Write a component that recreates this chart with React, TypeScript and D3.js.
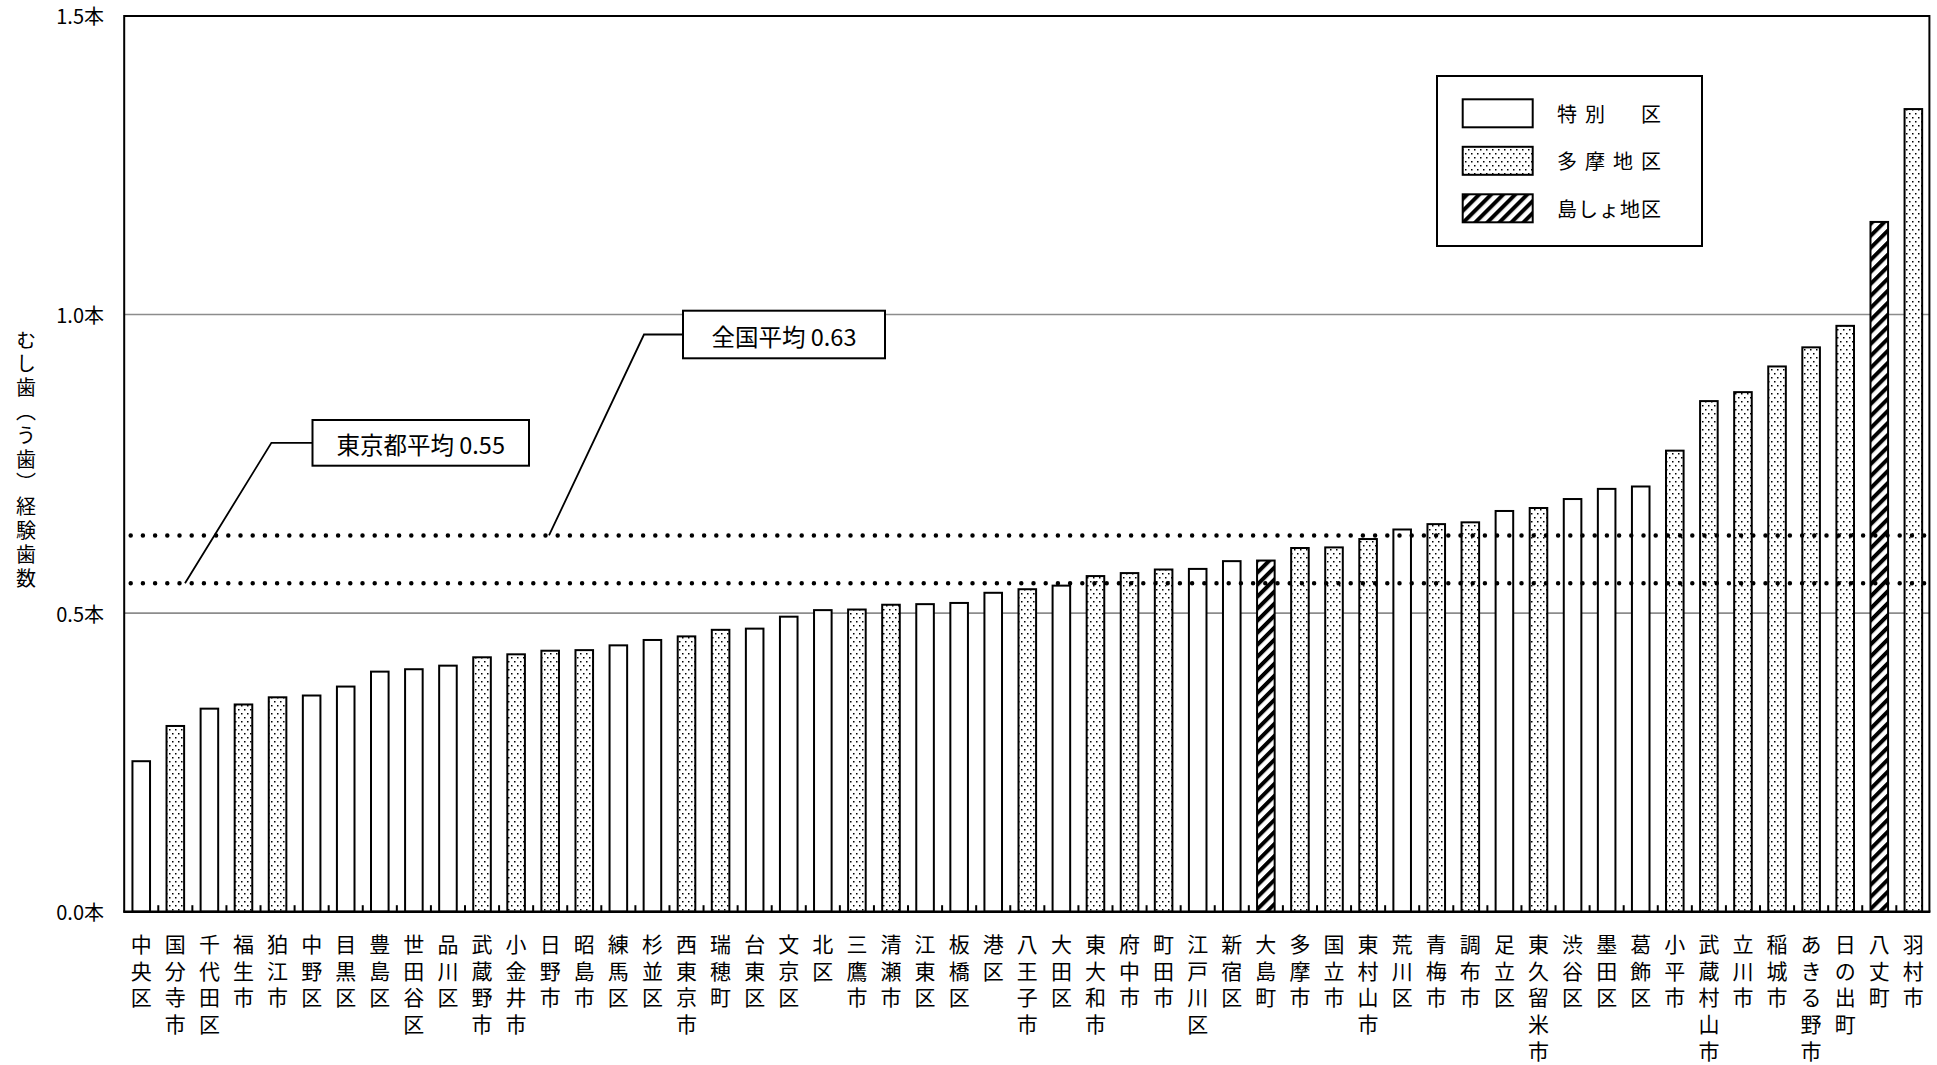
import React from "react";
import * as d3 from "d3";

const categories = [
  "中央区", "国分寺市", "千代田区", "福生市", "狛江市", "中野区", "目黒区", "豊島区", "世田谷区", "品川区",
  "武蔵野市", "小金井市", "日野市", "昭島市", "練馬区", "杉並区", "西東京市", "瑞穂町", "台東区", "文京区",
  "北区", "三鷹市", "清瀬市", "江東区", "板橋区", "港区", "八王子市", "大田区", "東大和市", "府中市",
  "町田市", "江戸川区", "新宿区", "大島町", "多摩市", "国立市", "東村山市", "荒川区", "青梅市", "調布市",
  "足立区", "東久留米市", "渋谷区", "墨田区", "葛飾区", "小平市", "武蔵村山市", "立川市", "稲城市", "あきる野市",
  "日の出町", "八丈町", "羽村市",
];

const values = [
  0.252, 0.311, 0.34, 0.347, 0.359, 0.362, 0.377, 0.402, 0.406, 0.412,
  0.426, 0.431, 0.437, 0.438, 0.446, 0.455, 0.461, 0.472, 0.474, 0.494,
  0.505, 0.506, 0.514, 0.515, 0.517, 0.534, 0.54, 0.546, 0.562, 0.567,
  0.573, 0.574, 0.587, 0.588, 0.609, 0.61, 0.624, 0.64, 0.649, 0.652,
  0.671, 0.676, 0.691, 0.708, 0.712, 0.772, 0.855, 0.87, 0.913, 0.945,
  0.981, 1.155, 1.344,
];

// w = 特別区, t = 多摩地区, i = 島しょ地区
const regions = [
  "w", "t", "w", "t", "t", "w", "w", "w", "w", "w",
  "t", "t", "t", "t", "w", "w", "t", "t", "w", "w",
  "w", "t", "t", "w", "w", "w", "t", "w", "t", "t",
  "t", "w", "w", "i", "t", "t", "t", "w", "t", "t",
  "w", "t", "w", "w", "w", "t", "t", "t", "t", "t",
  "t", "i", "t",
];

const legendKeys = ["w", "t", "i"];
const legendLabels = ["特別　区", "多摩地区", "島しょ地区"];

const yTicks = [0, 0.5, 1.0, 1.5];
const yTickLabels = ["0.0本", "0.5本", "1.0本", "1.5本"];
const gridValues = [0.5, 1.0];

const refLabels = ["東京都平均 0.55", "全国平均 0.63"];
const refValues = [0.55, 0.63];

const yTitle = "むし歯（う歯）経験歯数";

const FONT = "'Noto Sans CJK JP', 'Noto Sans', sans-serif";

const fillFor = (r: string) =>
  r === "w" ? "#ffffff" : r === "t" ? "url(#dots)" : "url(#hatch)";

export default function App() {
  const W = 1937;
  const H = 1065;
  const left = 124.2;
  const right = 1930.4;
  const top = 15.9;
  const bottom = 911.7;

  const x = d3.scaleBand<string>().domain(categories).range([left, right]).padding(0);
  const step = x.step();
  const barW = step * 0.516;
  const y = d3.scaleLinear().domain([0, 1.5]).range([bottom, top]);

  // annotation layout (boxes + leaders)
  const annos = [
    { box: [312.5, 420, 216.5, 45.7], elbowX: 271.4, endX: 185 },
    { box: [683, 310.7, 202, 47.6], elbowX: 644, endX: 549 },
  ];

  return (
    <svg
      width={W}
      height={H}
      style={{ position: "absolute", left: 0, top: 0, background: "#fff" }}
      fontFamily={FONT}
    >
      <defs>
        <pattern id="dots" width="6" height="8" patternUnits="userSpaceOnUse">
          <rect width="6" height="8" fill="#fff" />
          <rect x="1" y="1" width="1.5" height="1.5" fill="#000" />
          <rect x="4" y="5" width="1.5" height="1.5" fill="#000" />
        </pattern>
        <pattern
          id="hatch"
          width="8.5"
          height="8.5"
          patternUnits="userSpaceOnUse"
          patternTransform="rotate(45)"
        >
          <rect width="8.5" height="8.5" fill="#fff" />
          <rect x="0" y="0" width="4" height="8.5" fill="#000" />
        </pattern>
      </defs>

      <rect x={0} y={0} width={W} height={H} fill="#fff" />

      {/* gridlines */}
      {gridValues.map((v) => (
        <line key={v} x1={left} x2={right - 1} y1={y(v)} y2={y(v)} stroke="#8c8c8c" strokeWidth={1.6} />
      ))}

      {/* bars */}
      {categories.map((c, i) => {
        const cx = (x(c) as number) + step / 2;
        return (
          <rect
            key={c}
            x={cx - barW / 2}
            y={y(values[i])}
            width={barW}
            height={bottom - y(values[i])}
            fill={fillFor(regions[i])}
            stroke="#000"
            strokeWidth={2}
          />
        );
      })}

      {/* x ticks (inward) */}
      {categories.slice(1).map((c) => (
        <line key={"t" + c} x1={x(c) as number} x2={x(c) as number} y1={bottom} y2={bottom - 6.5} stroke="#000" strokeWidth={2} />
      ))}

      {/* plot frame */}
      <polyline
        points={`${left},${bottom} ${left},${top} ${right - 1},${top} ${right - 1},${bottom}`}
        fill="none"
        stroke="#000"
        strokeWidth={2}
      />
      <line x1={left - 1} x2={right} y1={bottom} y2={bottom} stroke="#000" strokeWidth={2.5} />

      {/* reference dotted lines */}
      {refValues.map((v) => (
        <line
          key={"r" + v}
          x1={left + 6.5}
          x2={right - 2}
          y1={y(v)}
          y2={y(v)}
          stroke="#000"
          strokeWidth={4.5}
          strokeLinecap="round"
          strokeDasharray="0 12.2"
        />
      ))}

      {/* annotations */}
      {annos.map((a, i) => {
        const [bx, by, bw, bh] = a.box;
        const my = by + bh / 2;
        return (
          <g key={"a" + i}>
            <polyline
              points={`${bx},${my} ${a.elbowX},${my} ${a.endX},${y(refValues[i])}`}
              fill="none"
              stroke="#000"
              strokeWidth={1.8}
            />
            <rect x={bx} y={by} width={bw} height={bh} fill="#fff" stroke="#000" strokeWidth={2} />
            <text
              x={bx + bw / 2}
              y={my + 1}
              textAnchor="middle"
              dominantBaseline="central"
              fontSize={23.5}
            >
              {refLabels[i]}
            </text>
          </g>
        );
      })}

      {/* y tick labels */}
      {yTicks.map((t, i) => (
        <text key={"y" + t} x={104} y={y(t)} textAnchor="end" dominantBaseline="central" fontSize={20}>
          {yTickLabels[i]}
        </text>
      ))}

      {/* y title (vertical writing) */}
      <text
        x={26}
        y={330}
        fontSize={20}
        style={{ writingMode: "vertical-rl", letterSpacing: "3.8px" } as React.CSSProperties}
      >
        {yTitle}
      </text>

      {/* x labels (vertical stacks) */}
      {categories.map((c) => {
        const cx = (x(c) as number) + step / 2;
        return (
          <g key={"xl" + c}>
            {Array.from(c).map((ch, j) => (
              <text
                key={j}
                x={cx}
                y={943 + j * 26.7}
                textAnchor="middle"
                dominantBaseline="central"
                fontSize={21}
              >
                {ch}
              </text>
            ))}
          </g>
        );
      })}

      {/* legend */}
      <rect x={1437} y={76} width={265} height={170} fill="#fff" stroke="#000" strokeWidth={2} />
      {legendKeys.map((k, i) => {
        const sy = 99.3 + i * 47.5;
        return (
          <g key={"lg" + k}>
            <rect x={1462.7} y={sy} width={70} height={28} fill={fillFor(k)} stroke="#000" strokeWidth={2} />
            <text
              x={1557}
              y={sy + 14}
              dominantBaseline="central"
              fontSize={20}
              textLength={104}
              lengthAdjust="spacing"
            >
              {legendLabels[i]}
            </text>
          </g>
        );
      })}
    </svg>
  );
}
